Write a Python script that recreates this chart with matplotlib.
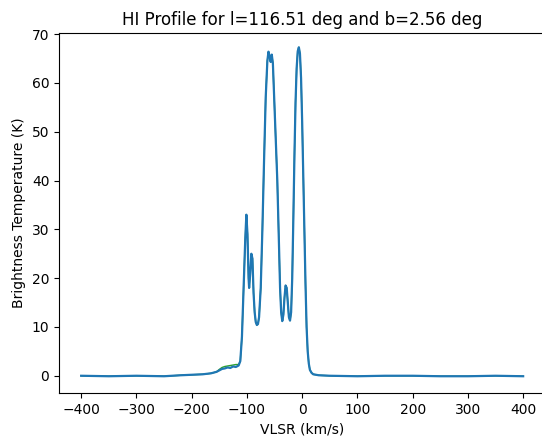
import matplotlib
matplotlib.use("Agg")
import matplotlib.pyplot as plt

# velocity channels (km/s) and brightness temperature (K)
vlsr = [-400, -350, -300, -250, -220, -200, -180, -165, -155, -150, -145,
        -140, -135, -130, -125, -120, -115, -112, -109, -106, -103, -101,
        -99, -97, -96, -94, -92, -90, -88, -86, -84, -82, -80, -78, -75,
        -72, -69, -66, -63, -61, -59, -57, -55, -53, -51, -48, -45, -42,
        -40, -38, -36, -34, -32, -30, -28, -26, -24, -22, -20, -18, -16,
        -14, -12, -10, -8, -6, -4, -2, 0, 2, 4, 6, 8, 10, 12, 14, 17, 20,
        30, 50, 100, 150, 200, 250, 300, 350, 400]
t_blue = [0.0, -0.1, 0.0, -0.1, 0.1, 0.2, 0.3, 0.5, 0.8, 1.1, 1.4,
          1.5, 1.7, 1.6, 1.9, 1.8, 2.1, 3.0, 8.0, 18.0, 28.0, 33.0,
          29.0, 20.0, 18.0, 21.0, 25.0, 24.0, 17.0, 13.0, 11.0, 10.4, 10.6, 12.0, 18.0,
          30.0, 44.0, 57.0, 64.5, 66.4, 65.5, 64.3, 65.8, 64.0, 58.0, 49.0, 40.0, 27.0,
          18.0, 13.0, 11.2, 12.5, 16.0, 18.5, 18.0, 15.0, 12.0, 11.3, 13.0, 20.0, 32.0,
          45.0, 56.0, 63.0, 66.5, 67.3, 66.0, 61.0, 52.0, 41.0, 30.0, 19.0, 10.0, 5.0, 2.5, 1.2, 0.6, 0.3,
          0.1, 0.0, -0.1, 0.0, 0.0, -0.1, -0.1, 0.0, -0.1]
t_green = [0.0, -0.1, 0.0, -0.1, 0.1, 0.2, 0.3, 0.5, 0.8, 1.3, 1.7,
           1.9, 2.0, 2.1, 2.2, 2.3, 2.3, 3.0, 8.0, 18.0, 28.0, 33.0,
           29.0, 20.0, 18.0, 21.0, 25.0, 24.0, 17.0, 13.0, 11.0, 10.4, 10.6, 12.0, 18.0,
           30.0, 44.0, 57.0, 64.5, 66.4, 65.5, 64.3, 65.8, 64.0, 58.0, 49.0, 40.0, 27.0,
           18.0, 13.0, 11.2, 12.5, 16.0, 18.5, 18.0, 15.0, 12.0, 11.3, 13.0, 20.0, 32.0,
           45.0, 56.0, 63.0, 66.5, 67.3, 66.0, 61.0, 52.0, 41.0, 30.0, 19.0, 10.0, 5.0, 2.5, 1.2, 0.6, 0.3,
           0.1, 0.0, -0.1, 0.0, 0.0, -0.1, -0.1, 0.0, -0.1]

fig = plt.figure(figsize=(5.42, 4.36), dpi=100)
ax = fig.add_axes([0.109, 0.099, 0.897, 0.825])
ax.plot(vlsr, t_green, color="tab:green", lw=1.0)
ax.plot(vlsr, t_blue, color="tab:blue", lw=1.6)
ax.set_xlim(-440, 440)
ax.set_ylim(-3.5, 70.2)
ax.spines["right"].set_visible(False)
ax.set_xticks([-400, -300, -200, -100, 0, 100, 200, 300, 400])
ax.set_title("HI Profile for l=116.51 deg and b=2.56 deg")
ax.set_xlabel("VLSR (km/s)")
ax.set_ylabel("Brightness Temperature (K)")
fig.savefig("out.png", dpi=100)
